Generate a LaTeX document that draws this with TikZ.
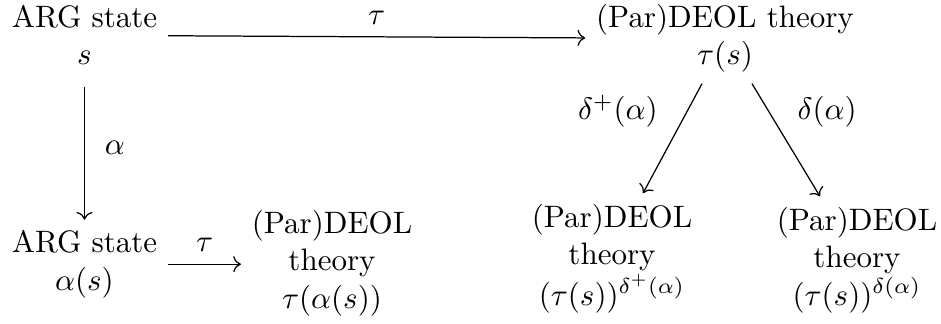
\documentclass[tikz,border=0pt]{standalone}
\usetikzlibrary{arrows.meta}
\begin{document}
\begin{tikzpicture}[x=0.3226pt, y=-0.3226pt,
  obj/.style={align=center, anchor=base, inner sep=3.33pt},
  arr/.style={->, line width=0.4pt}]
\useasboundingbox (0,0) rectangle (941,323);
\node[obj] (a) at (84.5,65) {ARG state\\$s$};
\node[obj] (b) at (725,65) {(Par)DEOL theory\\$\tau(s)$};
\node[obj] (c) at (84.5,290) {ARG state\\$\alpha(s)$};
\node[obj] (d) at (332,308) {(Par)DEOL\\theory\\$\tau(\alpha(s))$};
\node[obj] (e) at (612,305) {(Par)DEOL\\theory\\$(\tau(s))^{\delta^+(\alpha)}$};
\node[obj] (f) at (857,305) {(Par)DEOL\\theory\\$(\tau(s))^{\delta(\alpha)}$};
\draw[arr] (a) -- node[midway, above=0.5pt] {$\tau$} (b);
\draw[arr, shorten <=3.5pt] (a) -- node[midway, right=3pt] {$\alpha$} (c);
\draw[arr] (c.east) -- node[midway, above=0.5pt] {$\tau$} (c.east -| d.west);
\draw[arr] ([xshift=-23*0.3226pt]b.south) -- node[pos=0.25, left=6pt] {$\delta^+(\alpha)$} ([xshift=31*0.3226pt]e.north);
\draw[arr] ([xshift=27*0.3226pt]b.south) -- node[pos=0.25, right=5.7pt] {$\delta(\alpha)$} ([xshift=-37*0.3226pt]f.north);
\end{tikzpicture}
\end{document}
